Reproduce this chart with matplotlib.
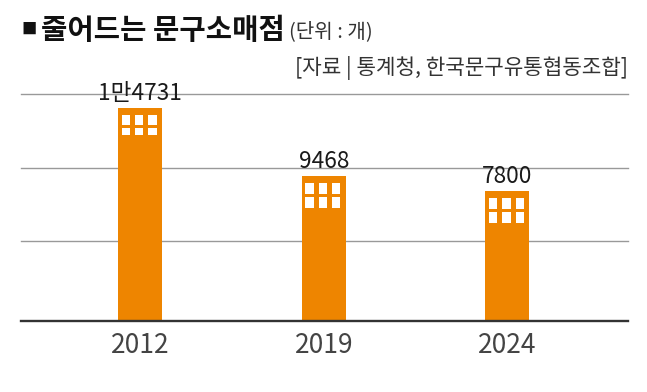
import matplotlib
matplotlib.use('Agg')
from matplotlib import pyplot as plt
from matplotlib.patches import Rectangle

plt.rcParams['font.family'] = ['Noto Sans CJK KR', 'DejaVu Sans']

years = ['2012', '2019', '2024']
value_labels = ['1만4731', '9468', '7800']
# the bars in the picture are not to scale with their labels, so these are drawn heights
bar_heights = [213, 145, 130]
grid_levels = [80, 153, 227]

W, H = 647, 392
fig = plt.figure(figsize=(W / 100, H / 100), dpi=100)

# one y unit is one pixel above the baseline
bottom = 321
top = 94
ax = fig.add_axes([21 / W, 1 - bottom / H, (628 - 21) / W, (bottom - top) / H])
ax.set_xlim(21, 628)
ax.set_ylim(0, bottom - top)

centers = [140, 324, 507]
window_centers = [139, 322.7, 506.5]
# (distance below bar top, height) of each window row; first bar's rows are squatter
window_rows = [[(6.5, 10), (20, 6.5)], [(6.5, 11), (20.5, 11)], [(6.5, 11), (20.5, 11)]]
bar_w = 44

for v in grid_levels:
    ax.axhline(v, color='#999999', lw=1.0, zorder=1, clip_on=False)

ax.bar(centers, bar_heights, width=bar_w, color='#ee8500', zorder=2)

for c, v, rows in zip(window_centers, bar_heights, window_rows):
    for off, wh in rows:
        for col in (-1, 0, 1):
            ax.add_patch(Rectangle((c + col * 13.3 - 4.2, v - off - wh), 8.4, wh, color='white', lw=0, zorder=3))

for c, v, s in zip(centers, bar_heights, value_labels):
    ax.annotate(s, (c, v), xytext=(0, 14.5), textcoords='offset pixels', ha='center', va='center',
                fontsize=16.3, color='#1a1a1a', zorder=4, annotation_clip=False)

for name in ['top', 'left', 'right']:
    ax.spines[name].set_visible(False)
ax.spines['bottom'].set_color('#333333')
ax.spines['bottom'].set_linewidth(1.7)
ax.set_yticks([])
ax.set_xticks(centers)
ax.set_xticklabels(years, fontsize=19, color='#444444')
ax.tick_params(axis='x', length=0, pad=8)

fig.text(21 / W, 1 - 29 / H, '■', fontsize=11, color='#111111', va='center')
fig.text(41 / W, 1 - 30 / H, '줄어드는 문구소매점', fontsize=20.6, fontweight='bold', color='#111111', va='center')
fig.text(289 / W, 1 - 32 / H, '(단위 : 개)', fontsize=14.5, color='#333333', va='center')
fig.text(628 / W, 1 - 68 / H, '[자료 | 통계청, 한국문구유통협동조합]', fontsize=15.3, color='#333333', va='center', ha='right')

fig.savefig('out.png', dpi=100)
